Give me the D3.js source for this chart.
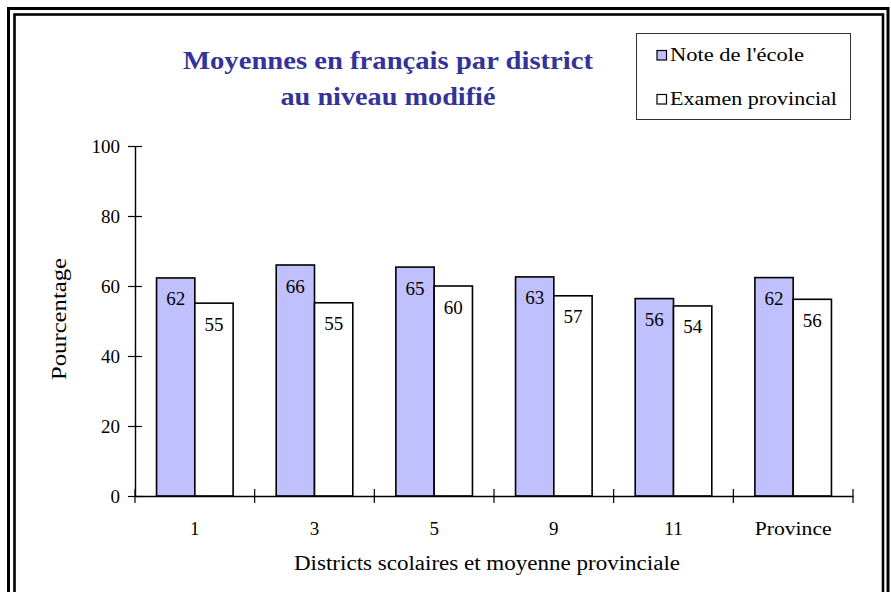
<!DOCTYPE html>
<html>
<head>
<meta charset="utf-8">
<script src="https://cdn.jsdelivr.net/npm/d3@7"></script>
<style>
  html, body { margin: 0; padding: 0; background: #fff; }
  svg { display: block; }
  text { font-family: "Liberation Serif", "Times New Roman", Times, serif; fill: #000; }
</style>
</head>
<body>
<svg id="chart" width="891" height="592"></svg>
<script>
// ---- data ----
const categories = ["1", "3", "5", "9", "11", "Province"];
const seriesNames = ["Note de l'école", "Examen provincial"];
const schoolValues = [62.3, 66.0, 65.4, 62.6, 56.4, 62.4];
const examValues = [55.1, 55.2, 60.0, 57.2, 54.3, 56.2];
const yTicks = [0, 20, 40, 60, 80, 100];
const titleLines = ["Moyennes en français par district", "au niveau modifié"];
const xAxisTitle = "Districts scolaires et moyenne provinciale";
const yAxisTitle = "Pourcentage";

const seriesValues = [schoolValues, examValues];
const seriesColors = ["#c0c0ff", "#ffffff"];

const svg = d3.select("#chart");

// frame (double border)
svg.append("rect").attr("x", 8.5).attr("y", 8.5).attr("width", 879.5).attr("height", 620)
  .attr("fill", "none").attr("stroke", "#000").attr("stroke-width", 3);
svg.append("rect").attr("x", 14.5).attr("y", 14.5).attr("width", 868.5).attr("height", 620)
  .attr("fill", "none").attr("stroke", "#000").attr("stroke-width", 2.6);

// scales
const x0 = d3.scaleBand().domain(categories).range([135, 853]).padding(0);
const x1 = d3.scaleBand().domain(d3.range(seriesNames.length))
  .range([0.18 * x0.bandwidth(), 0.82 * x0.bandwidth()]).padding(0);
const y = d3.scaleLinear().domain([0, 100]).range([496, 146]);

// bars
const g = svg.append("g");
seriesValues.forEach((vals, si) => {
  g.selectAll(".bar" + si).data(categories.map((c, i) => ({ c, v: vals[i] })))
    .enter().append("rect")
    .attr("x", d => x0(d.c) + x1(si))
    .attr("y", d => y(d.v))
    .attr("width", x1.bandwidth())
    .attr("height", d => y(0) - y(d.v))
    .attr("fill", seriesColors[si])
    .attr("stroke", "#000").attr("stroke-width", 1.6);
  g.selectAll(".lbl" + si).data(categories.map((c, i) => ({ c, v: vals[i] })))
    .enter().append("text")
    .attr("x", d => x0(d.c) + x1(si) + x1.bandwidth() / 2)
    .attr("y", d => y(d.v) + 27.5)
    .attr("text-anchor", "middle")
    .attr("font-size", 19)
    .text(d => Math.round(d.v));
});

// y axis
const yAxis = d3.axisLeft(y).tickValues(yTicks).tickSize(0).tickPadding(15);
const yg = svg.append("g").attr("transform", "translate(135,0)").call(yAxis);
yg.attr("font-family", null);
yg.select(".domain").attr("stroke", "#000").attr("stroke-width", 1.4);
yg.selectAll(".tick text").attr("font-size", 19).attr("fill", "#000").attr("dy", "0.35em");
yg.selectAll(".tick").append("line").attr("x1", -7).attr("x2", 7).attr("stroke", "#000").attr("stroke-width", 1.2);

// x axis
const xAxis = d3.axisBottom(x0).tickSize(0).tickPadding(26);
const xg = svg.append("g").attr("transform", "translate(0,496)").call(xAxis);
xg.attr("font-family", null);
xg.select(".domain").attr("stroke", "#000").attr("stroke-width", 1.4);
xg.selectAll(".tick text").attr("font-size", 19).attr("fill", "#000")
  .each(function(d) { if (d === "Province") d3.select(this).attr("textLength", 77).attr("lengthAdjust", "spacingAndGlyphs"); });
// category boundary ticks
const bounds = categories.map(c => x0(c)).concat([x0.range()[1]]);
xg.selectAll(".bnd").data(bounds).enter().append("line")
  .attr("x1", d => d).attr("x2", d => d).attr("y1", -7).attr("y2", 7)
  .attr("stroke", "#000").attr("stroke-width", 1.2);

// axis titles
svg.append("text").attr("x", 487).attr("y", 570).attr("text-anchor", "middle")
  .attr("font-size", 20).attr("textLength", 386).attr("lengthAdjust", "spacingAndGlyphs")
  .text(xAxisTitle);
svg.append("text").attr("transform", "translate(66,319) rotate(-90)").attr("text-anchor", "middle")
  .attr("font-size", 20).attr("textLength", 122).attr("lengthAdjust", "spacingAndGlyphs")
  .text(yAxisTitle);

// title
const titleY = [69, 105];
const titleW = [410, 215];
titleLines.forEach((t, i) => {
  svg.append("text").attr("x", 388).attr("y", titleY[i]).attr("text-anchor", "middle")
    .attr("font-size", 25).attr("font-weight", "bold").style("fill", "#333399")
    .attr("textLength", titleW[i]).attr("lengthAdjust", "spacingAndGlyphs")
    .text(t);
});

// legend
svg.append("rect").attr("x", 636.5).attr("y", 33.5).attr("width", 214).attr("height", 86)
  .attr("fill", "#fff").attr("stroke", "#333").attr("stroke-width", 1);
const legY = [61, 105];
const legW = [134, 167];
seriesNames.forEach((n, i) => {
  svg.append("rect").attr("x", 657).attr("y", legY[i] - 10.5).attr("width", 9.5).attr("height", 9.5)
    .attr("fill", seriesColors[i]).attr("stroke", "#000").attr("stroke-width", 1.2);
  svg.append("text").attr("x", 670).attr("y", legY[i]).attr("font-size", 18.5)
    .attr("textLength", legW[i]).attr("lengthAdjust", "spacingAndGlyphs").text(n);
});
</script>
</body>
</html>
